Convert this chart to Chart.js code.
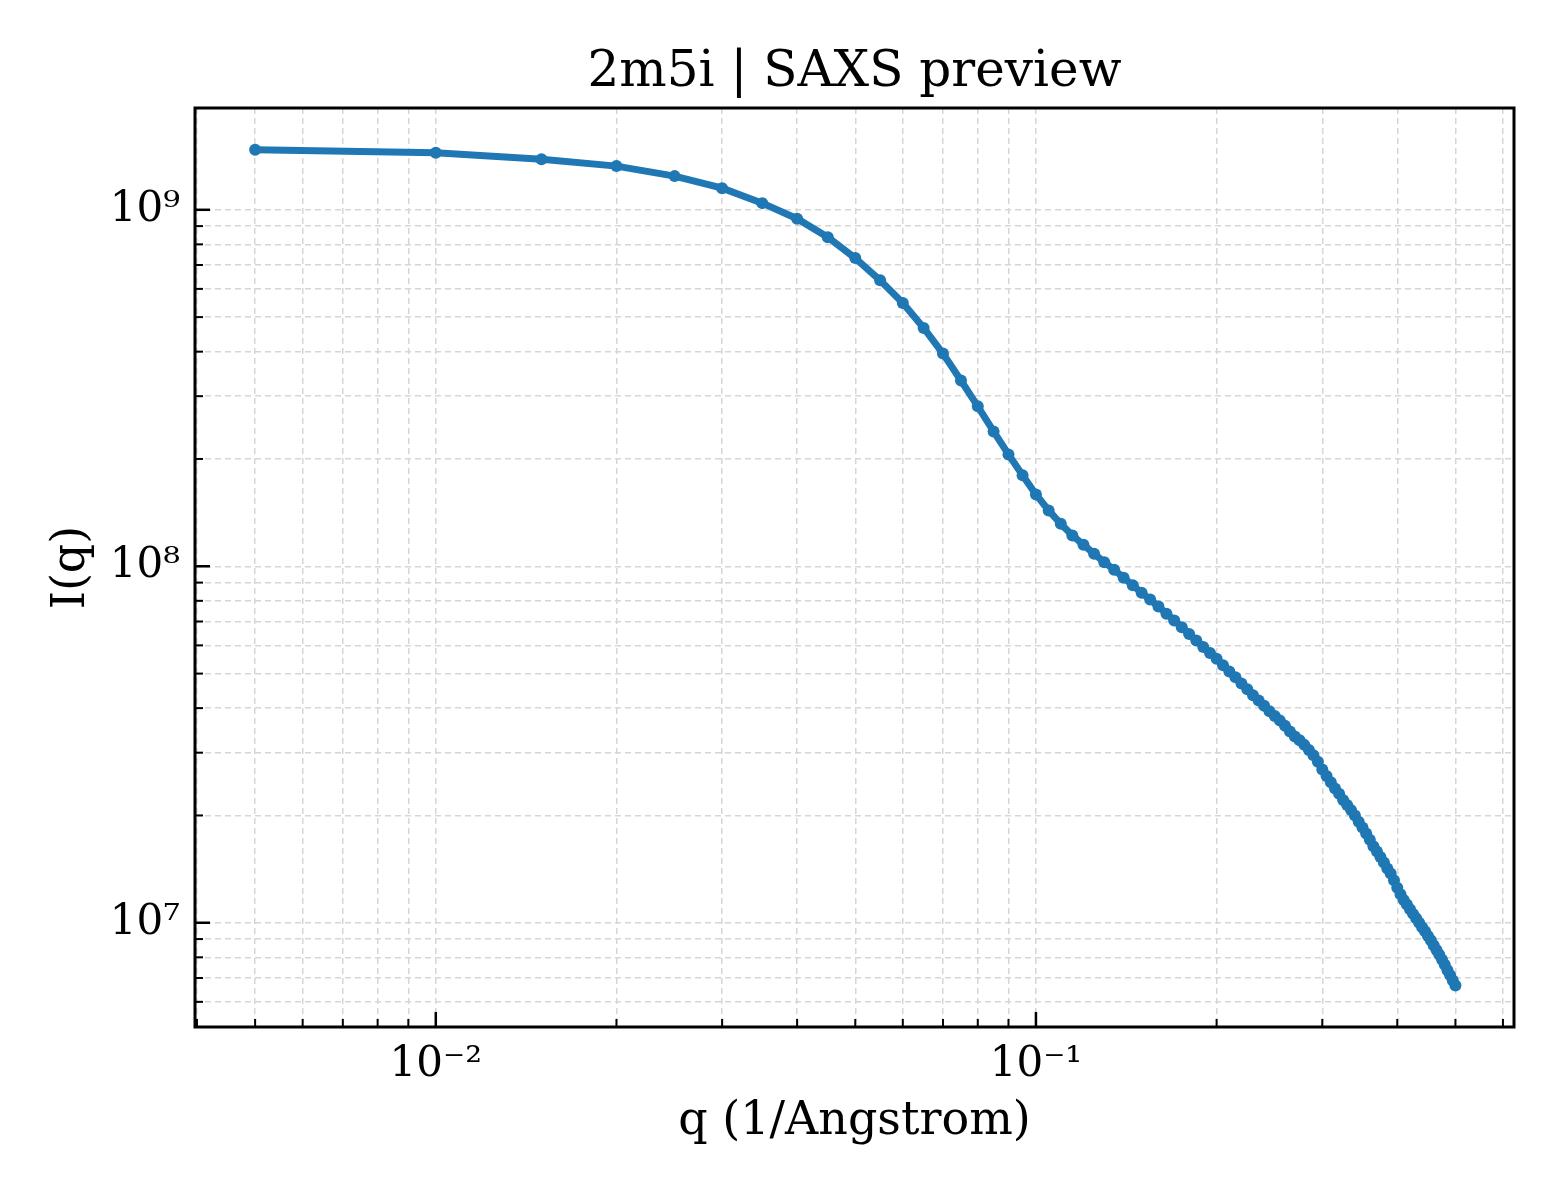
<!DOCTYPE html>
<html>
<head>
<meta charset="utf-8">
<title>2m5i | SAXS preview</title>
<script src="https://cdn.jsdelivr.net/npm/chart.js@4.4.1/dist/chart.umd.min.js"></script>
<style>
  html, body { margin: 0; padding: 0; background: #fff; }
  canvas { display: block; }
</style>
</head>
<body>
<canvas id="grafico" width="1560" height="1200"></canvas>
<script>
const chartTitle = '2m5i | SAXS preview';

// q (1/Angstrom)
const qValues = [
  0.005, 0.010, 0.015, 0.020, 0.025, 0.030, 0.035, 0.040, 0.045, 0.050,
  0.055, 0.060, 0.065, 0.070, 0.075, 0.080, 0.085, 0.090, 0.095, 0.100,
  0.105, 0.110, 0.115, 0.120, 0.125, 0.130, 0.135, 0.140, 0.145, 0.150,
  0.155, 0.160, 0.165, 0.170, 0.175, 0.180, 0.185, 0.190, 0.195, 0.200,
  0.205, 0.210, 0.215, 0.220, 0.225, 0.230, 0.235, 0.240, 0.245, 0.250,
  0.255, 0.260, 0.265, 0.270, 0.275, 0.280, 0.285, 0.290, 0.295, 0.300,
  0.305, 0.310, 0.315, 0.320, 0.325, 0.330, 0.335, 0.340, 0.345, 0.350,
  0.355, 0.360, 0.365, 0.370, 0.375, 0.380, 0.385, 0.390, 0.395, 0.400,
  0.405, 0.410, 0.415, 0.420, 0.425, 0.430, 0.435, 0.440, 0.445, 0.450,
  0.455, 0.460, 0.465, 0.470, 0.475, 0.480, 0.485, 0.490, 0.495, 0.500
];

// I(q)
const intensity = [
  1.473e9, 1.445e9, 1.387e9, 1.326e9, 1.243e9, 1.150e9, 1.044e9, 9.44e8, 8.38e8, 7.32e8,
  6.34e8, 5.48e8, 4.66e8, 3.95e8, 3.32e8, 2.81e8, 2.39e8, 2.06e8, 1.80e8, 1.59e8,
  1.434e8, 1.316e8, 1.220e8, 1.149e8, 1.084e8, 1.027e8, 9.78e7, 9.29e7, 8.84e7, 8.43e7,
  8.07e7, 7.71e7, 7.36e7, 7.05e7, 6.74e7, 6.46e7, 6.19e7, 5.94e7, 5.71e7, 5.50e7,
  5.28e7, 5.07e7, 4.88e7, 4.69e7, 4.52e7, 4.35e7, 4.20e7, 4.06e7, 3.92e7, 3.80e7,
  3.69e7, 3.57e7, 3.44e7, 3.33e7, 3.25e7, 3.155e7, 3.05e7, 2.95e7, 2.83e7, 2.69e7,
  2.58e7, 2.48e7, 2.38e7, 2.30e7, 2.21e7, 2.14e7, 2.07e7, 2.00e7, 1.92e7, 1.85e7,
  1.78e7, 1.71e7, 1.64e7, 1.585e7, 1.53e7, 1.476e7, 1.42e7, 1.374e7, 1.315e7, 1.253e7,
  1.202e7, 1.159e7, 1.125e7, 1.091e7, 1.059e7, 1.03e7, 1.00e7, 9.72e6, 9.46e6, 9.18e6,
  8.93e6, 8.65e6, 8.38e6, 8.13e6, 7.87e6, 7.62e6, 7.36e6, 7.13e6, 6.89e6, 6.67e6
];

// etiquetas de los ejes
const xMajorTicks = [0.01, 0.1];
const xMajorLabels = ['10\u207B\u00B2', '10\u207B\u00B9'];
const yMajorTicks = [1e7, 1e8, 1e9];
const yMajorLabels = ['10\u2077', '10\u2078', '10\u2079'];

const X_MIN = 0.00397, X_MAX = 0.626;
const Y_MIN = 5.1e6, Y_MAX = 1.93e9;

const FONT = "'DejaVu Serif', 'Liberation Serif', serif";
const LINE_COLOR = '#1f77b4';

// ticks mayores + menores (2..9 x 10^n) dentro del rango
const logTicks = (min, max) => {
  const out = [];
  for (let e = Math.floor(Math.log10(min)); e <= Math.ceil(Math.log10(max)); e++) {
    for (let m = 1; m <= 9; m++) {
      const v = Number((m * Math.pow(10, e)).toPrecision(6));
      if (v >= min && v <= max) out.push(v);
    }
  }
  return out;
};

const isMajor = (majors, value) => majors.some(m => Math.abs(m - value) / m < 1e-6);

const labelFor = (majors, labels) => (value) => {
  const i = majors.findIndex(m => Math.abs(m - value) / m < 1e-6);
  return i >= 0 ? labels[i] : '';
};

// marco negro, ticks hacia dentro y titulo centrado sobre el area del grafico
const frameAndTicks = {
  id: 'frameAndTicks',
  afterDatasetsDraw(chart) {
    const { ctx, chartArea: a, scales } = chart;
    ctx.save();
    ctx.strokeStyle = '#000';

    scales.x.ticks.forEach(t => {
      const px = scales.x.getPixelForValue(t.value);
      const major = isMajor(xMajorTicks, t.value);
      ctx.lineWidth = major ? 2.5 : 2;
      ctx.beginPath();
      ctx.moveTo(px, a.bottom);
      ctx.lineTo(px, a.bottom - (major ? 15 : 8));
      ctx.stroke();
    });
    scales.y.ticks.forEach(t => {
      const py = scales.y.getPixelForValue(t.value);
      const major = isMajor(yMajorTicks, t.value);
      ctx.lineWidth = major ? 2.5 : 2;
      ctx.beginPath();
      ctx.moveTo(a.left, py);
      ctx.lineTo(a.left + (major ? 15 : 8), py);
      ctx.stroke();
    });

    ctx.lineWidth = 3;
    ctx.strokeRect(a.left, a.top, a.right - a.left, a.bottom - a.top);

    ctx.fillStyle = '#000';
    ctx.font = '50px ' + FONT;
    ctx.textAlign = 'center';
    ctx.textBaseline = 'alphabetic';
    ctx.fillText(chartTitle, (a.left + a.right) / 2, 86);
    ctx.restore();
  }
};

const whiteBg = {
  id: 'whiteBg',
  beforeDraw(chart) {
    const { ctx, width, height } = chart;
    ctx.save();
    ctx.fillStyle = '#fff';
    ctx.fillRect(0, 0, width, height);
    ctx.restore();
  }
};

const gridOpts = {
  color: '#d6d6d6',
  lineWidth: 1.5,
  drawTicks: false
};

new Chart(document.getElementById('grafico').getContext('2d'), {
  type: 'line',
  data: {
    datasets: [{
      data: qValues.map((q, i) => ({ x: q, y: intensity[i] })),
      borderColor: LINE_COLOR,
      backgroundColor: LINE_COLOR,
      borderWidth: 7,
      pointRadius: 6,
      pointBorderWidth: 0,
      pointBackgroundColor: LINE_COLOR,
      tension: 0,
      fill: false
    }]
  },
  options: {
    responsive: false,
    animation: false,
    devicePixelRatio: 1,
    layout: { padding: { left: 0, right: 46, top: 108, bottom: 0 } },
    plugins: {
      legend: { display: false },
      tooltip: { enabled: false },
      title: { display: false }
    },
    scales: {
      x: {
        type: 'logarithmic',
        min: X_MIN,
        max: X_MAX,
        afterBuildTicks: (scale) => { scale.ticks = logTicks(X_MIN, X_MAX).map(v => ({ value: v })); },
        afterFit: (scale) => { scale.height = 173; },
        grid: gridOpts,
        border: { display: false, dash: [6, 4] },
        ticks: {
          autoSkip: false,
          maxRotation: 0,
          padding: 13,
          color: '#000',
          font: { family: FONT, size: 42 },
          callback: labelFor(xMajorTicks, xMajorLabels)
        },
        title: {
          display: true,
          text: 'q (1/Angstrom)',
          color: '#000',
          font: { family: FONT, size: 46 },
          padding: { top: 0, bottom: 50 }
        }
      },
      y: {
        type: 'logarithmic',
        min: Y_MIN,
        max: Y_MAX,
        afterBuildTicks: (scale) => { scale.ticks = logTicks(Y_MIN, Y_MAX).map(v => ({ value: v })); },
        afterFit: (scale) => { scale.width = 195; },
        grid: gridOpts,
        border: { display: false, dash: [6, 4] },
        ticks: {
          autoSkip: false,
          padding: 15,
          color: '#000',
          font: { family: FONT, size: 42 },
          callback: labelFor(yMajorTicks, yMajorLabels)
        },
        title: {
          display: true,
          text: 'I(q)',
          color: '#000',
          font: { family: FONT, size: 46 },
          padding: { top: 44, bottom: 0 }
        }
      }
    }
  },
  plugins: [whiteBg, frameAndTicks]
});
</script>
</body>
</html>
